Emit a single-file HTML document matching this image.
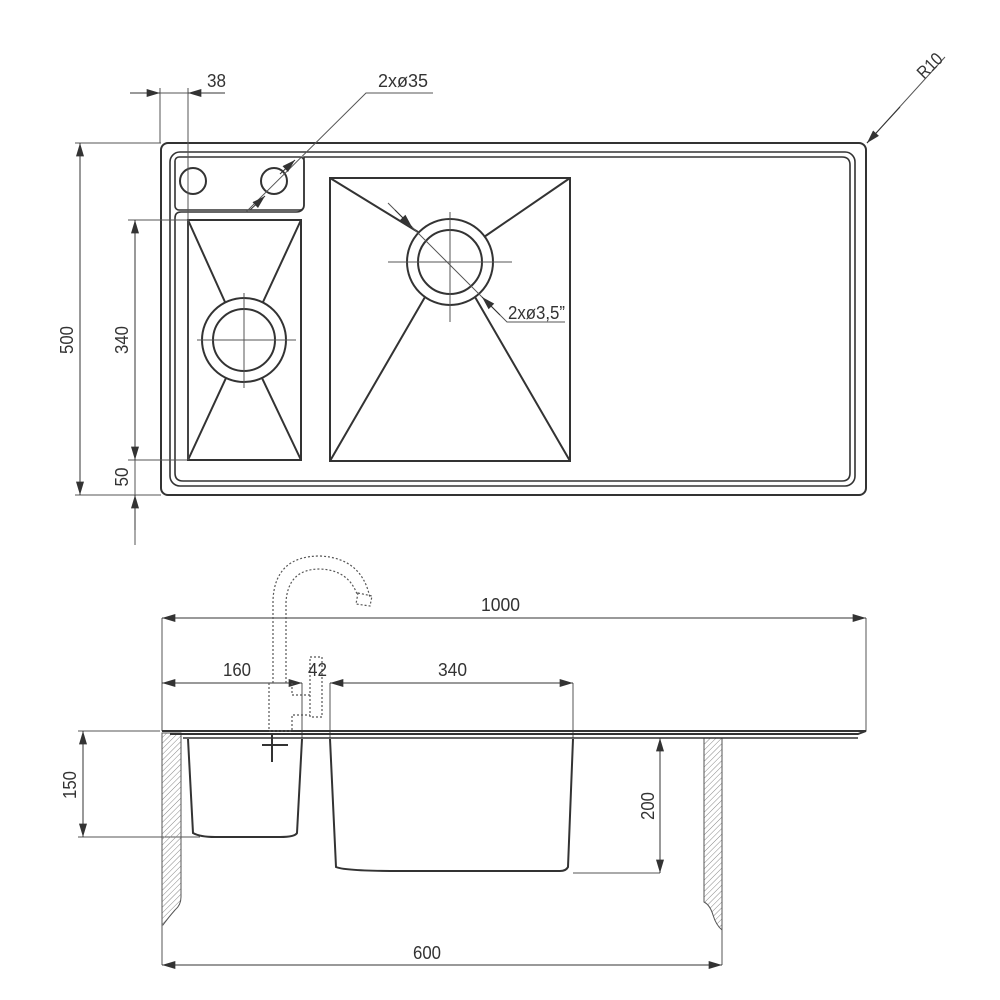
<!DOCTYPE html>
<html><head><meta charset="utf-8"><style>
html,body{margin:0;padding:0;background:#fff}
svg{display:block}
text{font-family:"Liberation Sans",sans-serif;font-size:18px;fill:#333}
</style></head><body>
<svg width="1000" height="1000" viewBox="0 0 1000 1000" xmlns="http://www.w3.org/2000/svg">
<defs>
<marker id="a" viewBox="0 0 10 6" refX="10" refY="3" markerWidth="18" markerHeight="8" markerUnits="userSpaceOnUse" orient="auto-start-reverse"><path d="M0,0L10,3L0,6z" fill="#333"/></marker>
<pattern id="h" width="4" height="4" patternUnits="userSpaceOnUse" patternTransform="rotate(45)"><line x1="0" y1="0" x2="0" y2="4" stroke="#888" stroke-width="1"/></pattern>
</defs>
<g fill="none" stroke="#333" stroke-width="2">
<rect x="161" y="143" width="705" height="352" rx="7"/>
<rect x="170" y="152" width="685" height="334" rx="10" stroke-width="1.6"/>
<path d="M304,157 H842 Q850,157 850,165 V473 Q850,481 842,481 H183 Q175,481 175,473 V218 Q175,212 181,212 H296 Q304,212 304,204 Z" stroke-width="1.6"/>
<rect x="175" y="157" width="129" height="53" rx="4" stroke-width="1.6"/>
<circle cx="193" cy="181" r="13"/><circle cx="274" cy="181" r="13"/>
<rect x="188" y="220" width="113" height="240"/>
<circle cx="244" cy="340" r="42"/><circle cx="244" cy="340" r="31"/>
<path d="M188,220 L225,302 M301,220 L263,302 M188,460 L226,378 M301,460 L262,378"/>
<rect x="330" y="178" width="240" height="283"/>
<circle cx="450" cy="262" r="43"/><circle cx="450" cy="262" r="32"/>
<path d="M330,178 L418,232 M570,178 L484,237 M330,461 L425,297 M570,461 L475,297"/>
</g>
<g fill="none" stroke="#555" stroke-width="1">
<path d="M197,340H296M244,293V388M388,262H512M450,212V322"/>
<path d="M130,93H225M160,88V143M188,88V460"/>
<path d="M75,143H161M75,495H161M80,143V495M128,220H188M128,460H187M135,220V545"/>
<path d="M433,93H366L246,212M388,203L507,322H565M945,57L867,143"/>
</g>
<g stroke="#333" stroke-width="1" fill="none">
<line x1="130" y1="93" x2="160" y2="93" marker-end="url(#a)"/>
<line x1="225" y1="93" x2="188" y2="93" marker-end="url(#a)"/>
<line x1="80" y1="300" x2="80" y2="143" marker-end="url(#a)"/>
<line x1="80" y1="300" x2="80" y2="495" marker-end="url(#a)"/>
<line x1="135" y1="300" x2="135" y2="220" marker-end="url(#a)"/>
<line x1="135" y1="300" x2="135" y2="460" marker-end="url(#a)"/>
<line x1="135" y1="530" x2="135" y2="495" marker-end="url(#a)"/>
<line x1="280" y1="174" x2="295" y2="160" marker-end="url(#a)"/>
<line x1="250" y1="210" x2="265" y2="196" marker-end="url(#a)"/>
<line x1="395" y1="210" x2="412" y2="227" marker-end="url(#a)"/>
<line x1="500" y1="315" x2="482" y2="297" marker-end="url(#a)"/>
<line x1="900" y1="107" x2="867" y2="143" marker-end="url(#a)"/>
</g>
<text x="207" y="87" textLength="19" lengthAdjust="spacingAndGlyphs">38</text>
<text x="378" y="87" textLength="50" lengthAdjust="spacingAndGlyphs">2x&#248;35</text>
<text x="508" y="319" textLength="57" lengthAdjust="spacingAndGlyphs">2x&#248;3,5&#8221;</text>
<text transform="translate(934,70) rotate(-45)" text-anchor="middle" textLength="28" lengthAdjust="spacingAndGlyphs">R10</text>
<text transform="translate(73,340) rotate(-90)" text-anchor="middle" textLength="28" lengthAdjust="spacingAndGlyphs">500</text>
<text transform="translate(128,340) rotate(-90)" text-anchor="middle" textLength="28" lengthAdjust="spacingAndGlyphs">340</text>
<text transform="translate(128,477) rotate(-90)" text-anchor="middle" textLength="19" lengthAdjust="spacingAndGlyphs">50</text>
<g fill="none" stroke="#555" stroke-width="1">
<path d="M162,618V731M866,618V731M162,965V910M722,965V925M302,683V738M330,683V738M573,683V738"/>
<path d="M78,731H160M78,837H200M660,738V873M573,873H660"/>
</g>
<g stroke="#333" stroke-width="1" fill="none">
<line x1="500" y1="618" x2="162" y2="618" marker-end="url(#a)"/>
<line x1="500" y1="618" x2="866" y2="618" marker-end="url(#a)"/>
<line x1="230" y1="683" x2="162" y2="683" marker-end="url(#a)"/>
<line x1="230" y1="683" x2="302" y2="683" marker-end="url(#a)"/>
<line x1="450" y1="683" x2="330" y2="683" marker-end="url(#a)"/>
<line x1="450" y1="683" x2="573" y2="683" marker-end="url(#a)"/>
<line x1="83" y1="785" x2="83" y2="731" marker-end="url(#a)"/>
<line x1="83" y1="785" x2="83" y2="837" marker-end="url(#a)"/>
<line x1="660" y1="800" x2="660" y2="738" marker-end="url(#a)"/>
<line x1="660" y1="800" x2="660" y2="873" marker-end="url(#a)"/>
<line x1="440" y1="965" x2="162" y2="965" marker-end="url(#a)"/>
<line x1="440" y1="965" x2="722" y2="965" marker-end="url(#a)"/>
</g>
<g fill="url(#h)" stroke="#555" stroke-width="1">
<path d="M162,733H181V897Q181,905 175,910Q168,918 163,925H162Z"/>
<path d="M704,738H722V930Q716,925 713,915Q710,905 704,902Z"/>
</g>
<g fill="none" stroke="#333" stroke-width="2">
<path d="M162,731H866L858,734H170"/>
<path d="M183,738H858" stroke-width="1.5"/>
<path d="M188,739L193,833Q200,837 215,837H280Q295,837 297,833L302,739"/>
<path d="M330,739L336,867Q345,871 400,871H560Q566,871 568,867L573,739"/>
<path d="M272,733V755M262,745H288M272,755V762"/>
</g>
<g fill="none" stroke="#555" stroke-width="1.2" stroke-dasharray="2,2">
<path d="M273,683V600Q275,556 320,556Q362,558 370,598M286,683V602Q288,569 320,569Q348,570 357,594"/>
<path d="M358,593L372,596L370,606L356,604Z"/>
<path d="M269,683V731H292V715H310M292,683V695H310M310,657H322V717H310Z"/>
</g>
<text x="481" y="611" textLength="39" lengthAdjust="spacingAndGlyphs">1000</text>
<text x="223" y="676" textLength="28" lengthAdjust="spacingAndGlyphs">160</text>
<text x="308" y="676" textLength="19" lengthAdjust="spacingAndGlyphs">42</text>
<text x="438" y="676" textLength="29" lengthAdjust="spacingAndGlyphs">340</text>
<text x="413" y="959" textLength="28" lengthAdjust="spacingAndGlyphs">600</text>
<text transform="translate(76,785) rotate(-90)" text-anchor="middle" textLength="28" lengthAdjust="spacingAndGlyphs">150</text>
<text transform="translate(654,806) rotate(-90)" text-anchor="middle" textLength="28" lengthAdjust="spacingAndGlyphs">200</text>
</svg>
</body></html>
